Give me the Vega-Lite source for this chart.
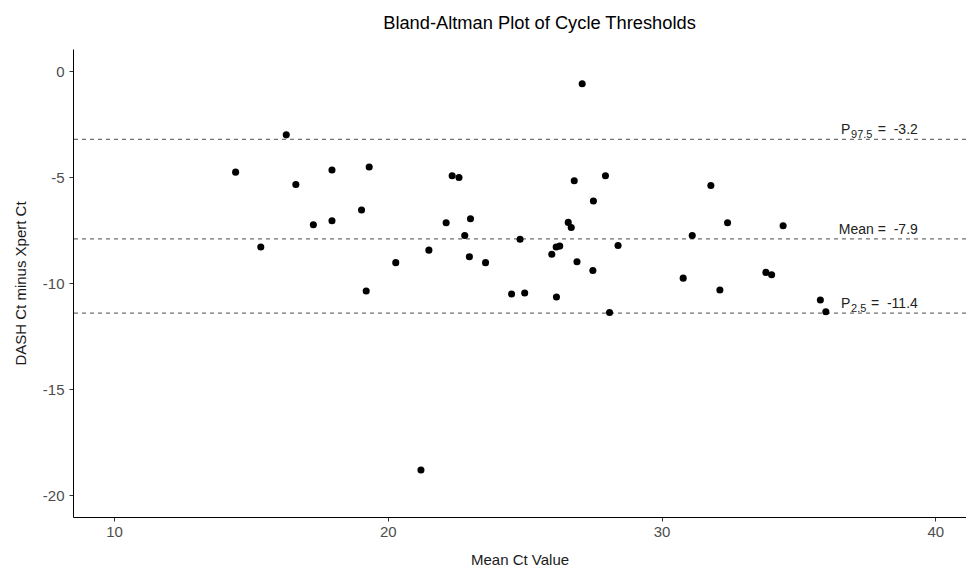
{
  "$schema": "https://vega.github.io/schema/vega-lite/v6.json",
  "width": 893,
  "height": 468,
  "autosize": {"type": "none"},
  "padding": {"left": 73, "top": 49, "right": 0, "bottom": 54},
  "background": "white",
  "title": {
    "text": "Bland-Altman Plot of Cycle Thresholds",
    "font": "Liberation Sans",
    "fontSize": 18.3,
    "fontWeight": "normal",
    "color": "#000000",
    "anchor": "middle",
    "offset": 16,
    "dx": 20
  },
  "config": {
    "view": {"stroke": null},
    "axis": {
      "grid": false,
      "domainColor": "#000000",
      "domainWidth": 1,
      "tickColor": "#333333",
      "tickSize": 4,
      "tickWidth": 1,
      "labelFont": "Liberation Sans",
      "labelFontSize": 15,
      "labelColor": "#4d4d4d",
      "labelExpr": "replace(datum.label, '\u2212', '-')",
      "titleFont": "Liberation Sans",
      "titleFontSize": 15,
      "titleFontWeight": "normal",
      "titleColor": "#1a1a1a"
    }
  },
  "datasets": {
    "points": [
      {"mean_ct": 14.44, "diff": -4.75},
      {"mean_ct": 15.36, "diff": -8.28},
      {"mean_ct": 16.29, "diff": -2.99},
      {"mean_ct": 16.64, "diff": -5.33},
      {"mean_ct": 17.28, "diff": -7.23},
      {"mean_ct": 17.96, "diff": -4.65},
      {"mean_ct": 17.96, "diff": -7.04},
      {"mean_ct": 19.04, "diff": -6.54},
      {"mean_ct": 19.21, "diff": -10.36},
      {"mean_ct": 19.32, "diff": -4.51},
      {"mean_ct": 20.29, "diff": -9.02},
      {"mean_ct": 21.21, "diff": -18.8},
      {"mean_ct": 21.5, "diff": -8.43},
      {"mean_ct": 22.13, "diff": -7.14},
      {"mean_ct": 22.35, "diff": -4.92},
      {"mean_ct": 22.6, "diff": -5.0},
      {"mean_ct": 22.81, "diff": -7.74},
      {"mean_ct": 23.02, "diff": -6.95},
      {"mean_ct": 22.98, "diff": -8.74},
      {"mean_ct": 23.57, "diff": -9.02},
      {"mean_ct": 24.52, "diff": -10.5},
      {"mean_ct": 24.83, "diff": -7.92},
      {"mean_ct": 25.0, "diff": -10.45},
      {"mean_ct": 25.99, "diff": -8.62},
      {"mean_ct": 26.15, "diff": -8.28},
      {"mean_ct": 26.28, "diff": -8.24},
      {"mean_ct": 26.16, "diff": -10.64},
      {"mean_ct": 26.59, "diff": -7.12},
      {"mean_ct": 26.7, "diff": -7.36},
      {"mean_ct": 26.81, "diff": -5.16},
      {"mean_ct": 26.91, "diff": -8.98},
      {"mean_ct": 27.1, "diff": -0.58},
      {"mean_ct": 27.49, "diff": -9.39},
      {"mean_ct": 27.51, "diff": -6.11},
      {"mean_ct": 27.95, "diff": -4.92},
      {"mean_ct": 28.1, "diff": -11.37},
      {"mean_ct": 28.41, "diff": -8.21},
      {"mean_ct": 30.79, "diff": -9.75},
      {"mean_ct": 31.12, "diff": -7.74},
      {"mean_ct": 31.8, "diff": -5.38},
      {"mean_ct": 32.13, "diff": -10.31},
      {"mean_ct": 32.41, "diff": -7.14},
      {"mean_ct": 33.81, "diff": -9.48},
      {"mean_ct": 34.02, "diff": -9.59},
      {"mean_ct": 34.44, "diff": -7.28},
      {"mean_ct": 35.8, "diff": -10.78},
      {"mean_ct": 36.0, "diff": -11.34}
    ],
    "limits": [
      {"value": -3.2, "p": "P", "sub": "97.5", "rest": "=\u00a0 -3.2"},
      {"value": -7.9, "p": "", "sub": "", "rest": "Mean =\u00a0 -7.9"},
      {"value": -11.4, "p": "P", "sub": "2.5", "rest": "=\u00a0 -11.4"}
    ]
  },
  "layer": [
    {
      "data": {"name": "limits"},
      "mark": {"type": "rule", "strokeDash": [4, 4], "color": "#4d4d4d", "strokeWidth": 1},
      "encoding": {
        "y": {"field": "value", "type": "quantitative", "scale": {"domain": [-21.02, 1.06], "nice": false, "zero": false}}
      }
    },
    {
      "data": {"name": "points"},
      "mark": {"type": "circle", "size": 50, "color": "#000000", "opacity": 1},
      "encoding": {
        "x": {
          "field": "mean_ct",
          "type": "quantitative",
          "title": "Mean Ct Value",
          "scale": {"domain": [8.5, 41.12], "nice": false, "zero": false},
          "axis": {"values": [10, 20, 30, 40], "labelPadding": 3, "titlePadding": 13}
        },
        "y": {
          "field": "diff",
          "type": "quantitative",
          "title": "DASH Ct minus Xpert Ct",
          "scale": {"domain": [-21.02, 1.06], "nice": false, "zero": false},
          "axis": {"values": [0, -5, -10, -15, -20], "labelPadding": 5, "titlePadding": 14}
        }
      }
    },
    {
      "data": {"name": "limits"},
      "mark": {"type": "text", "align": "left", "baseline": "alphabetic", "dy": -5, "font": "Liberation Sans", "fontSize": 14, "color": "#222222"},
      "encoding": {
        "x": {"datum": 36.55, "type": "quantitative", "scale": {"domain": [8.5, 41.12], "nice": false, "zero": false}},
        "y": {"field": "value", "type": "quantitative", "scale": {"domain": [-21.02, 1.06], "nice": false, "zero": false}},
        "text": {"field": "p"}
      }
    },
    {
      "data": {"name": "limits"},
      "mark": {"type": "text", "align": "left", "baseline": "alphabetic", "dy": -1.5, "font": "Liberation Sans", "fontSize": 11, "color": "#222222"},
      "encoding": {
        "x": {"datum": 36.92, "type": "quantitative", "scale": {"domain": [8.5, 41.12], "nice": false, "zero": false}},
        "y": {"field": "value", "type": "quantitative", "scale": {"domain": [-21.02, 1.06], "nice": false, "zero": false}},
        "text": {"field": "sub"}
      }
    },
    {
      "data": {"name": "limits"},
      "mark": {"type": "text", "align": "right", "baseline": "alphabetic", "dy": -5, "font": "Liberation Sans", "fontSize": 14, "color": "#222222"},
      "encoding": {
        "x": {"datum": 39.36, "type": "quantitative", "scale": {"domain": [8.5, 41.12], "nice": false, "zero": false}},
        "y": {"field": "value", "type": "quantitative", "scale": {"domain": [-21.02, 1.06], "nice": false, "zero": false}},
        "text": {"field": "rest"}
      }
    }
  ]
}
